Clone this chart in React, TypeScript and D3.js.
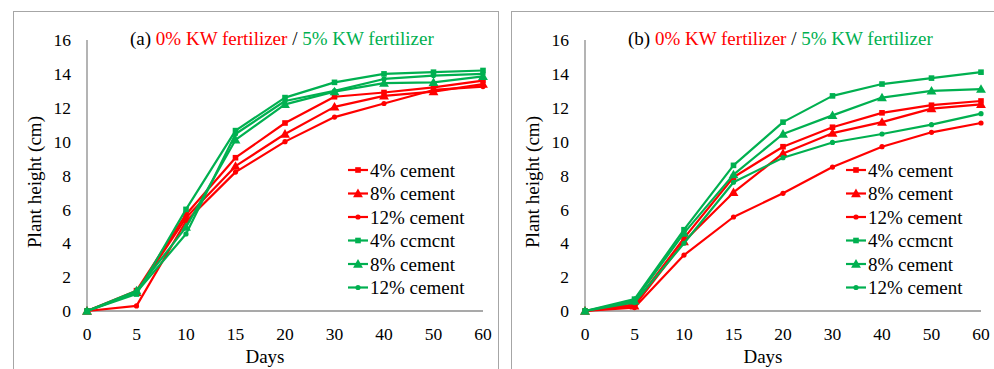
import React from "react";
import * as d3 from "d3";

const days = ["0", "5", "10", "15", "20", "30", "40", "50", "60"];
const yTicks = [0, 2, 4, 6, 8, 10, 12, 14, 16];
const seriesNames = ["4% cement", "8% cement", "12% cement", "4% ccmcnt", "8% cement", "12% cement"];

// Panel (a)
const aRed4 = [0, 1.2, 5.7, 9.05, 11.1, 12.65, 12.9, 13.2, 13.6];
const aRed8 = [0, 1.1, 5.5, 8.55, 10.45, 12.05, 12.7, 12.95, 13.4];
const aRed12 = [0, 0.3, 5.3, 8.2, 10.0, 11.45, 12.25, 13.05, 13.25];
const aGreen4 = [0, 1.0, 6.0, 10.65, 12.6, 13.5, 14.0, 14.1, 14.2];
const aGreen8 = [0, 1.2, 4.95, 10.1, 12.2, 12.95, 13.45, 13.5, 13.85];
const aGreen12 = [0, 1.1, 4.55, 10.45, 12.4, 13.0, 13.7, 13.9, 14.0];

// Panel (b)
const bRed4 = [0, 0.4, 4.3, 7.9, 9.7, 10.85, 11.7, 12.15, 12.4];
const bRed8 = [0, 0.3, 4.1, 7.0, 9.3, 10.5, 11.15, 11.95, 12.2];
const bRed12 = [0, 0.2, 3.3, 5.55, 6.95, 8.5, 9.7, 10.55, 11.1];
const bGreen4 = [0, 0.7, 4.8, 8.6, 11.15, 12.7, 13.4, 13.75, 14.1];
const bGreen8 = [0, 0.6, 4.6, 8.05, 10.45, 11.55, 12.6, 13.0, 13.1];
const bGreen12 = [0, 0.5, 4.0, 7.6, 9.05, 9.95, 10.45, 11.0, 11.65];

const RED = "#FF0000";
const GREEN = "#00B050";
const AXIS = "#8c8c8c";
const FONT = "Liberation Serif, DejaVu Serif, serif";

type Marker = "square" | "triangle" | "circle";
const markers: Marker[] = ["square", "triangle", "circle", "square", "triangle", "circle"];
const colors = [RED, RED, RED, GREEN, GREEN, GREEN];

function MarkerShape({ type, x, y, color }: { type: Marker; x: number; y: number; color: string }) {
  if (type === "square") return <rect x={x - 2.8} y={y - 2.8} width={5.6} height={5.6} fill={color} />;
  if (type === "triangle") {
    const p = d3.symbol(d3.symbolTriangle, 42)();
    return <path d={p || ""} transform={`translate(${x},${y + 0.8})`} fill={color} />;
  }
  return <circle cx={x} cy={y} r={2.6} fill={color} />;
}

function Panel({
  ox, label, series,
}: { ox: number; label: string; series: number[][] }) {
  const x0 = ox + 87;
  const x1 = ox + 483;
  const x = d3.scalePoint<string>().domain(days).range([x0, x1]);
  const y = d3.scaleLinear().domain([0, 16]).range([311, 40]);
  const line = d3.line<number>().x((_, i) => x(days[i]) as number).y((v) => y(v));
  const legX = x1 - 135;
  const legY = [170, 193.5, 217, 240.5, 264, 287.5];
  return (
    <g style={{ fontFamily: FONT }}>
      <rect x={ox + 13.5} y={11.5} width={485} height={420} fill="white" stroke="#a6a6a6" strokeWidth={1} />
      <line x1={x0} x2={x0} y1={y(16)} y2={y(0)} stroke={AXIS} strokeWidth={1.3} />
      <line x1={x0} x2={x1} y1={y(0)} y2={y(0)} stroke={AXIS} strokeWidth={1.3} />
      {yTicks.map((t) => (
        <text key={t} x={x0 - 16} y={y(t)} dy="0.35em" textAnchor="end" fontSize={17.5} fill="#000">
          {t}
        </text>
      ))}
      {days.map((d) => (
        <text key={d} x={x(d)} y={340} textAnchor="middle" fontSize={17.5} fill="#000">
          {d}
        </text>
      ))}
      <text x={x0 + 178} y={363} textAnchor="middle" fontSize={19} fill="#000">Days</text>
      <text
        transform={`translate(${ox + 41},${182}) rotate(-90)`}
        textAnchor="middle" fontSize={19} fill="#000"
      >
        Plant height (cm)
      </text>
      <text x={ox + 130} y={45} fontSize={19} fill="#000">
        <tspan>({label}) </tspan>
        <tspan fill={RED}>0% KW fertilizer</tspan>
        <tspan> / </tspan>
        <tspan fill={GREEN}>5% KW fertilizer</tspan>
      </text>
      {series.map((s, si) => (
        <g key={si}>
          <path d={line(s) || ""} fill="none" stroke={colors[si]} strokeWidth={2.2} strokeLinejoin="round" />
          {s.map((v, i) => (
            <MarkerShape key={i} type={markers[si]} x={x(days[i]) as number} y={y(v)} color={colors[si]} />
          ))}
        </g>
      ))}
      {seriesNames.map((n, i) => (
        <g key={i}>
          <line x1={legX} x2={legX + 20} y1={legY[i]} y2={legY[i]} stroke={colors[i]} strokeWidth={2.2} />
          <MarkerShape type={markers[i]} x={legX + 10} y={legY[i]} color={colors[i]} />
          <text x={legX + 22} y={legY[i]} dy="0.35em" fontSize={19} fill="#000">{n}</text>
        </g>
      ))}
    </g>
  );
}

export default function App() {
  return (
    <svg width={994} height={369} style={{ position: "absolute", left: 0, top: 0, background: "white" }}>
      <rect width={994} height={369} fill="white" />
      <Panel ox={0} label="a" series={[aRed4, aRed8, aRed12, aGreen4, aGreen8, aGreen12]} />
      <Panel ox={498} label="b" series={[bRed4, bRed8, bRed12, bGreen4, bGreen8, bGreen12]} />
    </svg>
  );
}
